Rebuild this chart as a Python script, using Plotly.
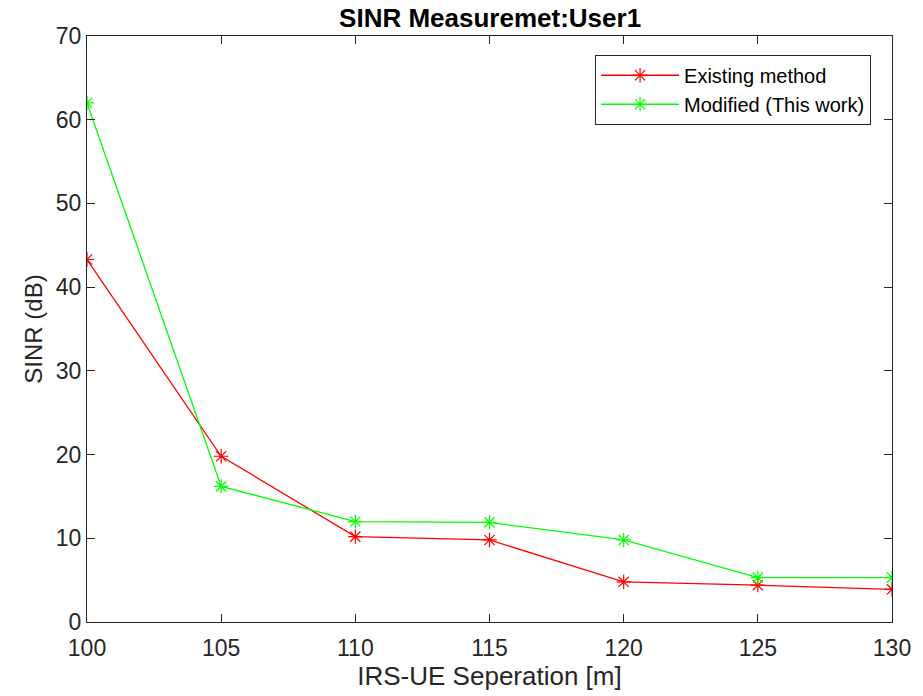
import plotly.graph_objects as go

separation = [100, 105, 110, 115, 120, 125, 130]
existing = [43.3, 19.8, 10.2, 9.8, 4.8, 4.4, 3.9]
modified = [62.0, 16.2, 12.0, 11.9, 9.8, 5.3, 5.3]
x_ticks = [100, 105, 110, 115, 120, 125, 130]
y_ticks = [0, 10, 20, 30, 40, 50, 60, 70]

fig = go.Figure()
fig.add_trace(go.Scatter(x=separation, y=existing, mode="lines+markers",
                         name="Existing method",
                         line=dict(color="#ff0000", width=1.3),
                         marker=dict(symbol="asterisk-open", size=12,
                                     line=dict(color="#ff0000", width=1.2))))
fig.add_trace(go.Scatter(x=separation, y=modified, mode="lines+markers",
                         name="Modified (This work)",
                         line=dict(color="#00ff00", width=1.3),
                         marker=dict(symbol="asterisk-open", size=12,
                                     line=dict(color="#00ff00", width=1.2))))

axis_common = dict(showline=True, linecolor="#262626", linewidth=1.2, mirror="allticks",
                   ticks="inside", ticklen=8, tickcolor="#262626", showgrid=False,
                   zeroline=False, tickfont=dict(size=23, color="#262626"))

fig.update_layout(
    width=923, height=696,
    margin=dict(l=87, r=25, t=36, b=74),
    paper_bgcolor="white", plot_bgcolor="white",
    font=dict(family="Liberation Sans, Arial, sans-serif", color="#262626"),
    title=dict(text="<b>SINR Measuremet:User1</b>", x=0.531, xanchor="center",
               y=0.988, yanchor="top", font=dict(size=26, color="#000000")),
    xaxis=dict(range=[100, 130], tickvals=x_ticks, ticklabelstandoff=5,
               title=dict(text="IRS-UE Seperation [m]", font=dict(size=26), standoff=0),
               **axis_common),
    yaxis=dict(range=[0, 70], tickvals=y_ticks,
               title=dict(text="SINR (dB)", font=dict(size=24), standoff=6),
               **axis_common),
    legend=dict(x=0.974, y=0.968, xanchor="right", yanchor="top",
                bgcolor="white", bordercolor="#262626", borderwidth=1,
                itemwidth=78,
                font=dict(size=20, color="#000000"), tracegroupgap=0),
    showlegend=True,
)

fig.write_html("out.html")
